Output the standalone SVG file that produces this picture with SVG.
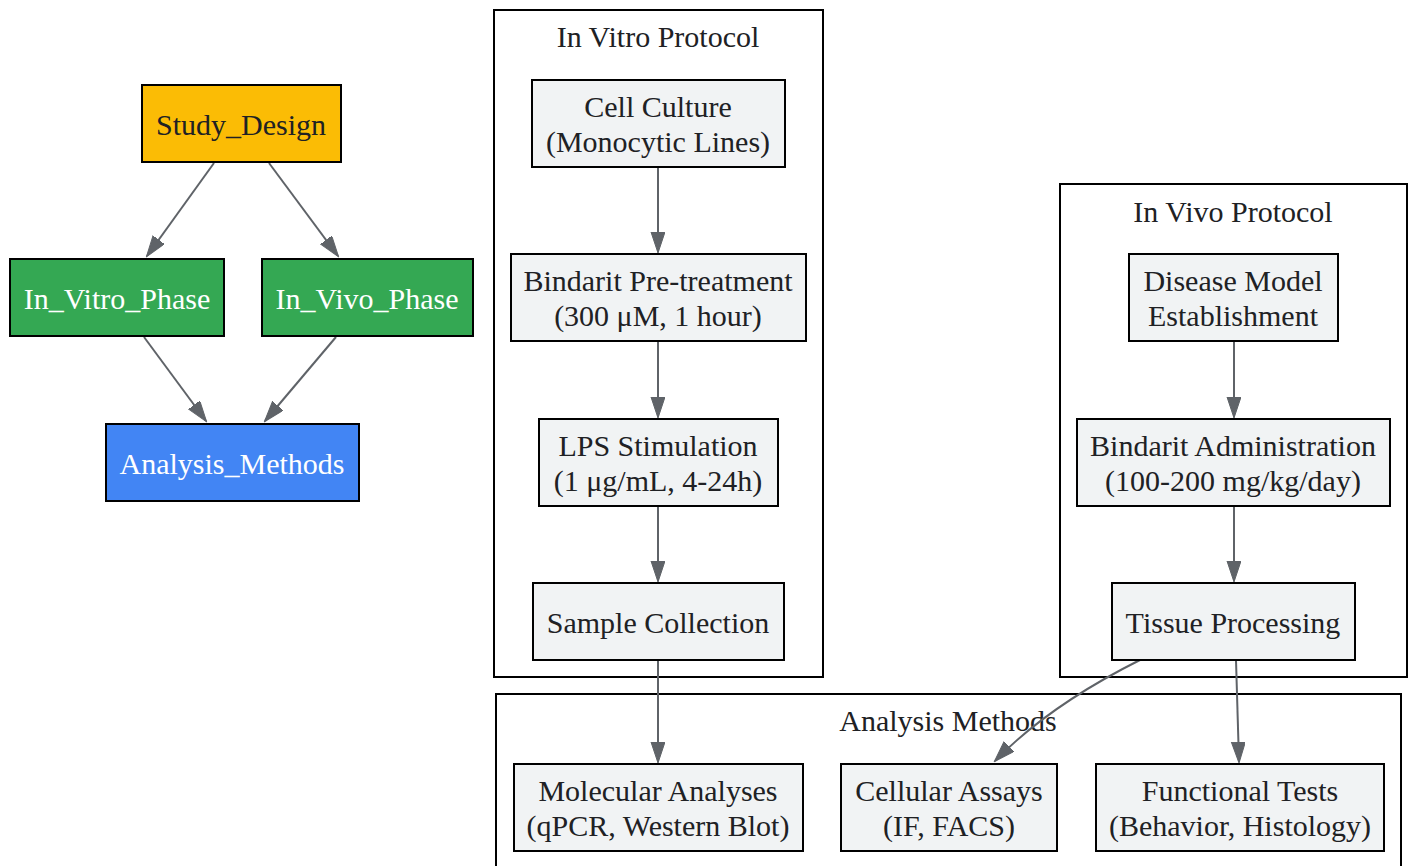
<svg xmlns="http://www.w3.org/2000/svg" width="1412" height="866" viewBox="0 0 1412 866">
<style>
text{font-family:"Liberation Serif","Times New Roman",serif;font-size:30px;fill:#202124;text-anchor:middle}
.w{fill:#ffffff}
.box{stroke:#000;stroke-width:2}
.g{fill:#f1f3f4}
.cl{fill:none;stroke:#000;stroke-width:2}
.e{fill:none;stroke:#5f6368;stroke-width:2;marker-end:url(#ah)}
</style>
<defs>
<marker id="ah" markerWidth="22" markerHeight="16" refX="20" refY="7" orient="auto" markerUnits="userSpaceOnUse">
<path d="M0,0 L21,7 L0,14 Z" fill="#5f6368" stroke="#5f6368" stroke-width="1"/>
</marker>
</defs>
<rect width="1412" height="866" fill="#fff"/>
<g id="clusters">
<g id="cluster_invitro"><rect class="cl" x="494" y="10" width="329" height="667"/><text x="658" y="47">In Vitro Protocol</text></g>
<g id="cluster_invivo"><rect class="cl" x="1060" y="184" width="347" height="493"/><text x="1233" y="222">In Vivo Protocol</text></g>
<g id="cluster_analysis"><rect class="cl" x="496" y="694" width="905" height="180"/><text x="948" y="731">Analysis Methods</text></g>
</g>
<g id="connectors">
<line class="e" x1="214" y1="163" x2="147" y2="256"/>
<line class="e" x1="269" y1="163" x2="338" y2="256"/>
<line class="e" x1="144" y1="337" x2="206" y2="421"/>
<line class="e" x1="336" y1="337" x2="265" y2="421"/>
<line class="e" x1="658" y1="167" x2="658" y2="252"/>
<line class="e" x1="658" y1="341" x2="658" y2="417"/>
<line class="e" x1="658" y1="506" x2="658" y2="581"/>
<line class="e" x1="658" y1="660" x2="658" y2="762"/>
<line class="e" x1="1234" y1="341" x2="1234" y2="417"/>
<line class="e" x1="1234" y1="506" x2="1234" y2="581"/>
<path class="e" d="M1140,660 C1080,690 1030,725 995,761"/>
<line class="e" x1="1236" y1="660" x2="1239" y2="762"/>
</g>
<g id="Study_Design"><rect class="box" x="142" y="85" width="199" height="77" fill="#FBBC05"/><text x="241" y="135">Study_Design</text></g>
<g id="In_Vitro_Phase"><rect class="box" x="10" y="259" width="214" height="77" fill="#34A853"/><text class="w" x="117" y="309">In_Vitro_Phase</text></g>
<g id="In_Vivo_Phase"><rect class="box" x="262" y="259" width="211" height="77" fill="#34A853"/><text class="w" x="367" y="309">In_Vivo_Phase</text></g>
<g id="Analysis_Methods"><rect class="box" x="106" y="424" width="253" height="77" fill="#4285F4"/><text class="w" x="232" y="474">Analysis_Methods</text></g>
<g id="cell_culture"><rect class="box g" x="532" y="80" width="253" height="87"/><text x="658" y="117">Cell Culture</text><text x="658" y="152">(Monocytic Lines)</text></g>
<g id="pretreat"><rect class="box g" x="511" y="254" width="295" height="87"/><text x="658" y="291">Bindarit Pre-treatment</text><text x="658" y="326">(300 μM, 1 hour)</text></g>
<g id="lps"><rect class="box g" x="539" y="419" width="239" height="87"/><text x="658" y="456">LPS Stimulation</text><text x="658" y="491">(1 μg/mL, 4-24h)</text></g>
<g id="sample"><rect class="box g" x="533" y="583" width="251" height="77"/><text x="658" y="633">Sample Collection</text></g>
<g id="disease"><rect class="box g" x="1129" y="254" width="209" height="87"/><text x="1233" y="291">Disease Model</text><text x="1233" y="326">Establishment</text></g>
<g id="admin"><rect class="box g" x="1077" y="419" width="313" height="87"/><text x="1233" y="456">Bindarit Administration</text><text x="1233" y="491">(100-200 mg/kg/day)</text></g>
<g id="tissue"><rect class="box g" x="1112" y="583" width="243" height="77"/><text x="1233" y="633">Tissue Processing</text></g>
<g id="molecular"><rect class="box g" x="514" y="764" width="289" height="87"/><text x="658" y="801">Molecular Analyses</text><text x="658" y="836">(qPCR, Western Blot)</text></g>
<g id="cellular"><rect class="box g" x="841" y="764" width="216" height="87"/><text x="949" y="801">Cellular Assays</text><text x="949" y="836">(IF, FACS)</text></g>
<g id="functional"><rect class="box g" x="1096" y="764" width="288" height="87"/><text x="1240" y="801">Functional Tests</text><text x="1240" y="836">(Behavior, Histology)</text></g>
</svg>
